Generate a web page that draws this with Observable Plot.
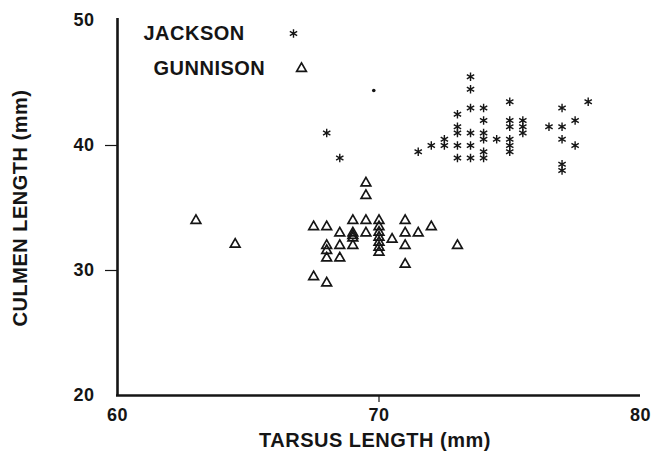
<!DOCTYPE html>
<html>
<head>
<meta charset="utf-8">
<script src="https://cdn.jsdelivr.net/npm/d3@7"></script>
<script src="https://cdn.jsdelivr.net/npm/@observablehq/plot@0.6"></script>
<style>
  html, body { margin: 0; padding: 0; background: #fff; }
  #chart { width: 654px; height: 460px; }
</style>
</head>
<body>
<div id="chart"></div>
<script>
// Axis domains and tick labels
const xDomain = [60, 80];
const yDomain = [20, 50];
const xTickLabels = [60, 70, 80];
const xTickMarks = [70];
const yTickLabels = [20, 30, 40, 50];
const yTickMarks = [30, 40];

// Series names
const seriesNames = ["JACKSON", "GUNNISON"];
const xTitle = "TARSUS LENGTH (mm)";
const yTitle = "CULMEN LENGTH (mm)";

// JACKSON (asterisks): tarsus length, culmen length
const jacksonX = [68, 68.5, 71.5, 72, 72.5, 72.5, 73, 73, 73, 73, 73,
  73.5, 73.5, 73.5, 73.5, 73.5, 73.5, 74, 74, 74, 74, 74, 74, 74.5,
  75, 75, 75, 75, 75, 75, 75.5, 75.5, 75.5, 76.5, 77, 77, 77, 77, 77,
  77.5, 77.5, 78];
const jacksonY = [41, 39, 39.5, 40, 40.5, 40, 42.5, 41.5, 41, 40, 39,
  45.5, 44.5, 43, 41, 40, 39, 43, 42, 41, 40.5, 39.5, 39, 40.5,
  43.5, 42, 41.5, 40.5, 40, 39.5, 42, 41.5, 41, 41.5, 43, 41.5, 40.5, 38.5, 38,
  42, 40, 43.5];
// stray small dot near the top
const dotX = [69.8];
const dotY = [44.4];

// GUNNISON (triangles)
const gunnisonX = [63, 64.5, 67.5, 67.5, 68, 68, 68, 68, 68, 68.5, 68.5, 68.5,
  69, 69, 69, 69, 69, 69.5, 69.5, 69.5, 69.5,
  70, 70, 70, 70, 70, 70, 70, 70.5, 71, 71, 71, 71, 71.5, 72, 73];
const gunnisonY = [34, 32.1, 33.5, 29.5, 33.5, 32, 31.6, 31, 29, 33, 32, 31,
  34, 33, 32.8, 32.6, 32, 37, 36, 34, 33,
  34, 33.5, 33.05, 32.65, 32.25, 31.85, 31.45, 32.5, 34, 33, 32, 30.5, 33, 33.5, 32];

const jackson = jacksonX.map((x, i) => ({x, y: jacksonY[i]}));
const gunnison = gunnisonX.map((x, i) => ({x, y: gunnisonY[i]}));
const stray = dotX.map((x, i) => ({x, y: dotY[i]}));

const ink = "#151515";

const chart = Plot.plot({
  width: 654,
  height: 460,
  marginLeft: 117,
  marginRight: 14,
  marginTop: 20,
  marginBottom: 65,
  x: {domain: xDomain},
  y: {domain: yDomain},
  style: {
    fontFamily: "'Liberation Sans', Arial, Helvetica, sans-serif",
    fontWeight: "bold",
    background: "#fff",
    color: ink,
    letterSpacing: "0.5px"
  },
  marks: [
    // tick labels
    Plot.axisY(yTickLabels, {tickSize: 0, tickPadding: 23, fontSize: 18, label: null}),
    Plot.axisY(yTickMarks, {tickSize: 12, tickFormat: () => "", label: null, strokeWidth: 1.2}),
    Plot.axisX(xTickLabels, {tickSize: 0, tickPadding: 13, fontSize: 18, label: null}),
    Plot.axisX(xTickMarks, {tickSize: 7, tickFormat: () => "", label: null, strokeWidth: 1.2}),
    // axis lines
    Plot.ruleX([xDomain[0]], {stroke: ink, strokeWidth: 2.6, insetTop: -2, insetBottom: -1}),
    Plot.ruleY([yDomain[0]], {stroke: ink, strokeWidth: 2.6, insetLeft: -1}),
    // axis titles
    Plot.text([yTitle], {frameAnchor: "left", dx: -97, rotate: -90, fontSize: 20,
      textAnchor: "middle", lineAnchor: "middle", fill: ink}),
    Plot.text([xTitle], {frameAnchor: "bottom", dx: -4, dy: 45, fontSize: 20,
      textAnchor: "middle", lineAnchor: "middle", fill: ink}),
    // data
    Plot.dot(gunnison, {x: "x", y: "y", symbol: "triangle", r: 3.6, fill: "none",
      stroke: ink, strokeWidth: 1.7}),
    Plot.dot(jackson, {x: "x", y: "y", symbol: "asterisk", r: 4, stroke: ink, strokeWidth: 1.4}),
    Plot.dot(stray, {x: "x", y: "y", r: 1.8, fill: ink, stroke: "none"}),
    // legend
    Plot.text([seriesNames[0]], {frameAnchor: "top-left", dx: 26, dy: 13, fontSize: 20,
      textAnchor: "start", lineAnchor: "middle", fill: ink}),
    Plot.text([seriesNames[1]], {frameAnchor: "top-left", dx: 36, dy: 48, fontSize: 20,
      textAnchor: "start", lineAnchor: "middle", fill: ink}),
    Plot.dot([seriesNames[0]], {frameAnchor: "top-left", dx: 176, dy: 13, symbol: "asterisk",
      r: 4, stroke: ink, strokeWidth: 1.4}),
    Plot.dot([seriesNames[1]], {frameAnchor: "top-left", dx: 184, dy: 48, symbol: "triangle",
      r: 3.6, fill: "none", stroke: ink, strokeWidth: 1.7})
  ]
});
document.getElementById("chart").appendChild(chart);
</script>
</body>
</html>
